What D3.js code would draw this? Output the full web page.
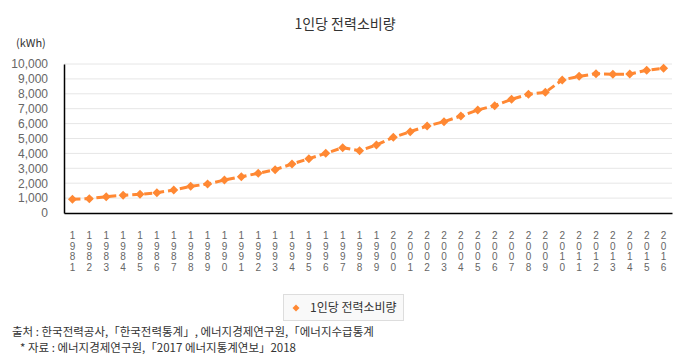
<!DOCTYPE html>
<html><head><meta charset="utf-8">
<script src="https://cdn.jsdelivr.net/npm/d3@7"></script>
<style>body{margin:0;background:#fff;} svg{display:block;font-family:"Noto Sans CJK KR","Noto Sans",sans-serif;}</style>
</head><body>
<svg id="c" width="690" height="360"></svg>
<script>
const years = ["1981","1982","1983","1984","1985","1986","1987","1988","1989","1990","1991","1992","1993","1994","1995","1996","1997","1998","1999","2000","2001","2002","2003","2004","2005","2006","2007","2008","2009","2010","2011","2012","2013","2014","2015","2016"];
const values = [920,960,1094,1188,1255,1362,1544,1790,1946,2215,2436,2664,2908,3289,3646,4004,4385,4183,4564,5078,5459,5839,6130,6510,6913,7204,7630,7966,8100,8926,9172,9351,9306,9328,9575,9709];
const yTicks = [0,1000,2000,3000,4000,5000,6000,7000,8000,9000,10000];
const title = "1인당 전력소비량";
const seriesName = "1인당 전력소비량";
const unit = "(kWh)";
const notes = ["출처 : 한국전력공사,「한국전력통계」, 에너지경제연구원,「에너지수급통계", "* 자료 : 에너지경제연구원,「2017 에너지통계연보」2018"];

const svg = d3.select("#c");
const color = "#FF8833";
const L = 64, R = 672, T = 64, B = 213;
const x = d3.scaleBand().domain(years).range([L, R]);
const y = d3.scaleLinear().domain([0, 10000]).range([B, T]);
const cx = d => x(d) + x.bandwidth() / 2;

svg.append("text").attr("x", 345).attr("y", 29).attr("text-anchor", "middle")
  .attr("font-size", 14).attr("fill", "#333").text(title);
svg.append("text").attr("x", 16).attr("y", 47).attr("font-size", 11).attr("fill", "#333").text(unit);

// gridlines
svg.append("g").selectAll("line").data(yTicks.filter(d => d > 0)).join("line")
  .attr("x1", L).attr("x2", R).attr("y1", d => y(d)).attr("y2", d => y(d))
  .attr("stroke", "#e6e6e6").attr("stroke-width", 1);

// y axis
const ya = svg.append("g").attr("transform", `translate(${L},0)`)
  .call(d3.axisLeft(y).tickValues(yTicks).tickSize(0).tickPadding(16).tickFormat(d3.format(",")));
ya.select(".domain").attr("stroke", "#000").attr("stroke-width", 1.5);
ya.selectAll("text").attr("font-size", 12).attr("fill", "#666").attr("font-family", "Liberation Sans, Arial, sans-serif");

// x axis line
const xa = svg.append("g").attr("transform", `translate(0,${B})`)
  .call(d3.axisBottom(x).tickSize(0).tickFormat(""));
xa.select(".domain").attr("stroke", "#000").attr("stroke-width", 1.5);

// x labels, vertical stacked digits
svg.append("g").selectAll("text").data(years).join("text")
  .attr("x", d => cx(d)).attr("y", 230)
  .attr("font-size", 10).attr("fill", "#666")
  .attr("font-family", "Liberation Sans, Arial, sans-serif")
  .style("writing-mode", "vertical-rl").style("text-orientation", "upright")
  .style("letter-spacing", "-0.5px")
  .text(d => d);

// line
const line = d3.line().x((d, i) => cx(years[i])).y(d => y(d));
svg.append("path").datum(values).attr("d", line).attr("fill", "none")
  .attr("stroke", color).attr("stroke-width", 3).attr("stroke-dasharray", "8,4");

const diamond = r => `M0,${-r}L${r},0L0,${r}L${-r},0Z`;
svg.append("g").selectAll("path").data(values).join("path")
  .attr("transform", (d, i) => `translate(${cx(years[i])},${y(d)})`)
  .attr("d", diamond(4.5)).attr("fill", color);

// legend
svg.append("rect").attr("x", 283.5).attr("y", 294.5).attr("width", 120).attr("height", 26)
  .attr("fill", "#f9f9f9").attr("stroke", "#ddd");
svg.append("path").attr("transform", "translate(296,308)").attr("d", diamond(3.5)).attr("fill", color);
svg.append("text").attr("x", 310).attr("y", 312).attr("font-size", 12).attr("fill", "#333").text(seriesName);

// notes
svg.append("text").attr("x", 12).attr("y", 336).attr("font-size", 11.5).attr("fill", "#333").text(notes[0]);
svg.append("text").attr("x", 20).attr("y", 352).attr("font-size", 11.5).attr("fill", "#333").text(notes[1]);
</script>
</body></html>
